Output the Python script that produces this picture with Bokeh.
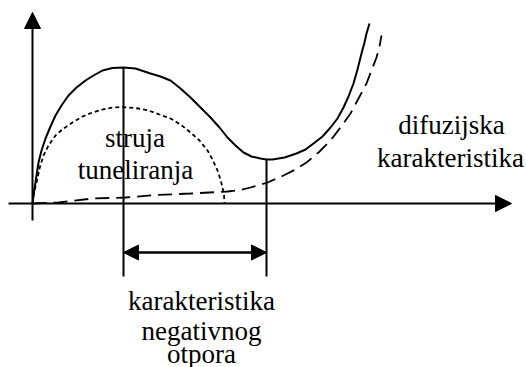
from bokeh.plotting import figure
from bokeh.models import Range1d, Arrow, NormalHead
from bokeh.core.properties import value
from bokeh.embed import file_html
from bokeh.resources import INLINE

# Total current (solid) I-V curve of the tunnel diode (x = voltage, y = current, arbitrary units)
total_x = [0, 1, 2, 3, 4.5, 6, 9, 13, 18, 23, 29, 36, 44, 53, 61, 70, 80, 91, 103, 118,
           128, 138, 148, 158, 168, 178, 187, 195, 203, 211, 219, 228, 234, 240, 252, 264,
           273, 281, 290, 298, 305, 311, 316, 321, 325, 329, 332, 334, 337]
total_y = [0, 8, 15, 21, 31, 41, 53, 65, 77, 88, 98, 108, 116, 123, 128, 133, 135.5, 136,
           135, 130, 127, 123, 115, 106, 96, 86, 76, 66, 58, 51, 47, 45, 44, 44, 46, 50,
           54, 60, 67, 76, 85, 96, 107, 120, 134, 150, 161, 170, 180]

# Tunnelling current (short dashes)
tunnel_x = [0, 1, 2, 3.5, 5, 7, 11, 16, 23, 31, 40, 50, 60, 70, 80, 88, 96, 106, 116, 127,
            138, 148, 158, 167, 175, 180, 185, 188, 190, 191.5, 192]
tunnel_y = [0, 7, 13, 19, 25, 35, 48, 58, 68, 75, 81, 87, 91, 94, 96, 96.5, 96, 95, 93, 89,
            85, 79, 71, 63, 53, 44, 33, 24, 16, 8, 0]

# Diffusion characteristic (long dashes)
diff_x = [0, 26, 60, 93, 123, 158, 195, 208, 218, 227, 235, 243, 251, 263, 274, 286, 298,
          308, 318, 326, 334, 339, 344, 347, 349]
diff_y = [0, 1, 5, 6, 8.5, 10, 12, 13.5, 16, 18.5, 21, 24.5, 28, 34, 41, 51, 63, 76, 90,
          105, 120, 133, 146, 157, 168]

# Axes extents
axis_x = [-24, 479]
axis_y = [-17, 191]
marker_bottom = -73
span_arrow_y = -49

# Labels
label_text = ["struja", "tuneliranja", "difuzijska", "karakteristika",
              "karakteristika", "negativnog", "otpora"]
label_x = [102.5, 103, 419, 418, 169, 169, 169]
label_y = [66, 34, 79, 46, -97, -127, -150]

p = figure(width=526, height=367, output_backend="svg", toolbar_location=None,
           x_axis_type=None, y_axis_type=None, min_border=0,
           x_range=Range1d(-32, 494), y_range=Range1d(-164, 203))
p.outline_line_color = None
p.grid.visible = False
p.background_fill_color = "white"
p.border_fill_color = "white"

# coordinate axes with arrow heads
p.add_layout(Arrow(end=NormalHead(size=16, fill_color="black", line_color="black"),
                   x_start=0, y_start=axis_y[0], x_end=0, y_end=axis_y[1],
                   line_width=2, line_color="black"))
p.add_layout(Arrow(end=NormalHead(size=16, fill_color="black", line_color="black"),
                   x_start=axis_x[0], y_start=0, x_end=axis_x[1], y_end=0,
                   line_width=2, line_color="black"))

# curves
p.line(total_x, total_y, line_width=2, line_color="black", line_join="round")
p.line(tunnel_x, tunnel_y, line_width=1.8, line_color="black", line_dash="4 3")
p.line(diff_x, diff_y, line_width=1.8, line_color="black", line_dash="14 7")

# peak and valley markers
left = [i for i, x in enumerate(total_x) if x < 150]
mid = [i for i, x in enumerate(total_x) if 150 <= x <= 300]
i_peak = max(left, key=lambda i: total_y[i])
i_valley = min(mid, key=lambda i: total_y[i])
xp, yp = total_x[i_peak], total_y[i_peak]
xv, yv = total_x[i_valley], total_y[i_valley]
p.segment(x0=[xp, xv], y0=[marker_bottom, marker_bottom], x1=[xp, xv], y1=[yp, yv],
          line_width=2, line_color="black")

# negative resistance span arrow
p.add_layout(Arrow(start=NormalHead(size=15, fill_color="black", line_color="black"),
                   end=NormalHead(size=15, fill_color="black", line_color="black"),
                   x_start=xp, y_start=span_arrow_y, x_end=xv, y_end=span_arrow_y,
                   line_width=2.5, line_color="black"))

p.text(x=label_x, y=label_y, text=label_text, text_font=value("Liberation Serif"),
       text_font_size="27px", text_align="center", text_baseline="alphabetic",
       text_color="black")

open("out.html", "w").write(file_html(p, INLINE))
